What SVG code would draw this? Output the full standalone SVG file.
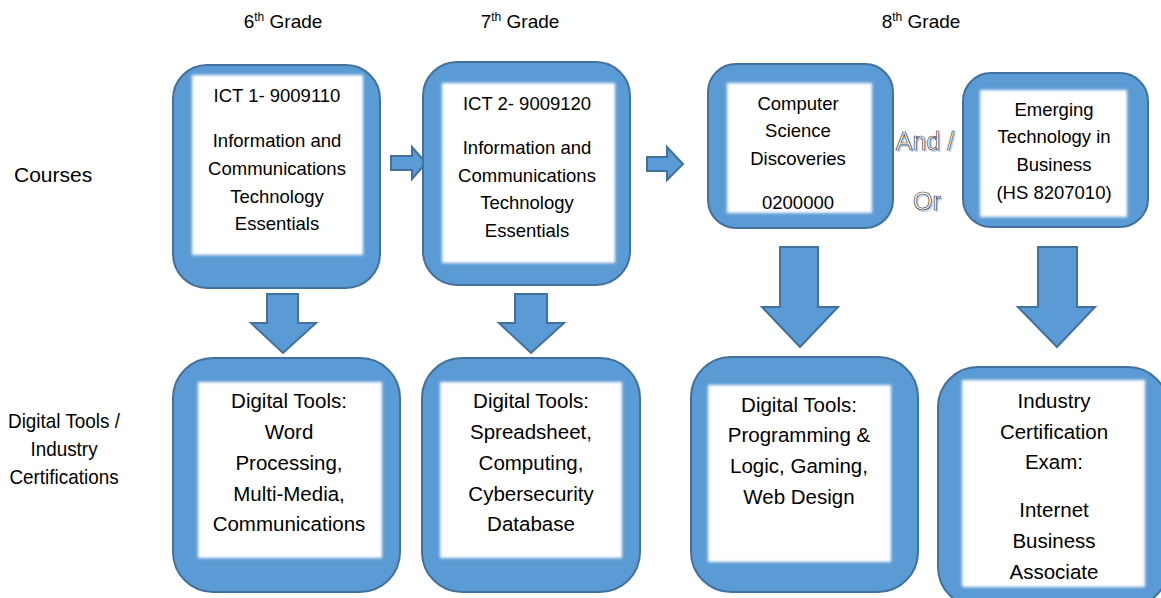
<svg xmlns="http://www.w3.org/2000/svg" width="1161" height="598" viewBox="0 0 1161 598">
<defs>
<filter id="soft" x="-10%" y="-10%" width="120%" height="120%">
<feGaussianBlur stdDeviation="1.6"/>
</filter>
</defs>
<style>
.box{fill:#5b9bd5;stroke:#41719c;stroke-width:2}
.inner{fill:#ffffff;filter:url(#soft)}
.arrow{fill:#5b9bd5;stroke:#41719c;stroke-width:2;stroke-linejoin:miter}
.t{font-family:"Liberation Sans",Arial,sans-serif;fill:#000;text-anchor:middle}
.ts{font-size:18.5px}
.tb{font-size:20.5px}
.hdr{font-family:"Liberation Sans",Arial,sans-serif;font-size:19px;fill:#000;text-anchor:middle}
.side{font-family:"Liberation Sans",Arial,sans-serif;font-size:21px;fill:#000}
.ao{font-family:"Liberation Sans",Arial,sans-serif;font-size:25px;text-anchor:middle}
.aoS{fill:#bdd7ee}
.aoM{fill:#ffffff;stroke:#3a3a3a;stroke-width:0.7}
</style>
<rect width="1161" height="598" fill="#ffffff"/>

<g id="headers">
<text class="hdr" x="283" y="28">6<tspan font-size="12" dy="-7">th</tspan><tspan dy="7"> Grade</tspan></text>
<text class="hdr" x="520" y="28">7<tspan font-size="12" dy="-7">th</tspan><tspan dy="7"> Grade</tspan></text>
<text class="hdr" x="921" y="28">8<tspan font-size="12" dy="-7">th</tspan><tspan dy="7"> Grade</tspan></text>
</g>

<g id="row-labels">
<text class="side" x="14" y="182">Courses</text>
<g transform="translate(64,0) scale(0.9,1)">
<text class="side" text-anchor="middle" x="0" y="428">Digital Tools /</text>
<text class="side" text-anchor="middle" x="0" y="456">Industry</text>
<text class="side" text-anchor="middle" x="0" y="484">Certifications</text>
</g>
</g>

<g id="connectors">
<polygon class="arrow" points="391,156 412,156 412,147 426,163 412,179 412,170 391,170"/>
<polygon class="arrow" points="647,157 667,157 667,147 683,164 667,180 667,171 647,171"/>
<polygon class="arrow" points="267,294 298,294 298,323 316,323 283,353 251,323 267,323"/>
<polygon class="arrow" points="515,294 547,294 547,323 564,323 531,353 499,323 515,323"/>
<polygon class="arrow" points="780,247 818,247 818,307 838,307 800,347 762,307 780,307"/>
<polygon class="arrow" points="1038,247 1077,247 1077,307 1095,307 1057,347 1018,307 1038,307"/>
</g>

<g id="ict1">
<rect class="box" x="173" y="65" width="207" height="223" rx="34"/>
<rect class="inner" x="192" y="75" width="171" height="180"/>
<text class="t ts" x="277" y="102">ICT 1- 9009110</text>
<text class="t ts" x="277" y="147">Information and</text>
<text class="t ts" x="277" y="175">Communications</text>
<text class="t ts" x="277" y="203">Technology</text>
<text class="t ts" x="277" y="230">Essentials</text>
</g>

<g id="ict2">
<rect class="box" x="423" y="62" width="207" height="223" rx="34"/>
<rect class="inner" x="442" y="83" width="173" height="180"/>
<text class="t ts" x="527" y="110">ICT 2- 9009120</text>
<text class="t ts" x="527" y="154">Information and</text>
<text class="t ts" x="527" y="182">Communications</text>
<text class="t ts" x="527" y="209">Technology</text>
<text class="t ts" x="527" y="237">Essentials</text>
</g>

<g id="csd">
<rect class="box" x="708" y="64" width="185" height="164" rx="28"/>
<rect class="inner" x="727" y="83" width="145" height="130"/>
<text class="t ts" x="798" y="110">Computer</text>
<text class="t ts" x="798" y="137">Science</text>
<text class="t ts" x="798" y="165">Discoveries</text>
<text class="t ts" x="798" y="209">0200000</text>
</g>

<g id="and-or">
<text class="ao aoS" x="926.5" y="151.5">And /</text>
<text class="ao aoM" x="925" y="150">And /</text>
<text class="ao aoS" x="928.5" y="211.5">Or</text>
<text class="ao aoM" x="927" y="210">Or</text>
</g>

<g id="etb">
<rect class="box" x="963" y="73" width="185" height="154" rx="28"/>
<rect class="inner" x="980" y="90" width="147" height="127"/>
<text class="t ts" x="1054" y="116">Emerging</text>
<text class="t ts" x="1054" y="143">Technology in</text>
<text class="t ts" x="1054" y="171">Business</text>
<text class="t ts" x="1054" y="199">(HS 8207010)</text>
</g>

<g id="tools6">
<rect class="box" x="173" y="358" width="227" height="234" rx="40"/>
<rect class="inner" x="198" y="382" width="184" height="176"/>
<text class="t tb" x="289" y="408">Digital Tools:</text>
<text class="t tb" x="289" y="439">Word</text>
<text class="t tb" x="289" y="470">Processing,</text>
<text class="t tb" x="289" y="501">Multi-Media,</text>
<text class="t tb" x="289" y="531">Communications</text>
</g>

<g id="tools7">
<rect class="box" x="422" y="358" width="218" height="234" rx="40"/>
<rect class="inner" x="440" y="382" width="182" height="176"/>
<text class="t tb" x="531" y="408">Digital Tools:</text>
<text class="t tb" x="531" y="439">Spreadsheet,</text>
<text class="t tb" x="531" y="470">Computing,</text>
<text class="t tb" x="531" y="501">Cybersecurity</text>
<text class="t tb" x="531" y="531">Database</text>
</g>

<g id="tools8">
<rect class="box" x="691" y="357" width="227" height="235" rx="40"/>
<rect class="inner" x="708" y="385" width="183" height="177"/>
<text class="t tb" x="799" y="412">Digital Tools:</text>
<text class="t tb" x="799" y="442">Programming &amp;</text>
<text class="t tb" x="799" y="473">Logic, Gaming,</text>
<text class="t tb" x="799" y="504">Web Design</text>
</g>

<g id="cert8">
<rect class="box" x="938" y="367" width="230" height="240" rx="40"/>
<rect class="inner" x="962" y="380" width="183" height="207"/>
<text class="t tb" x="1054" y="408">Industry</text>
<text class="t tb" x="1054" y="439">Certification</text>
<text class="t tb" x="1054" y="469">Exam:</text>
<text class="t tb" x="1054" y="517">Internet</text>
<text class="t tb" x="1054" y="548">Business</text>
<text class="t tb" x="1054" y="579">Associate</text>
</g>
</svg>
